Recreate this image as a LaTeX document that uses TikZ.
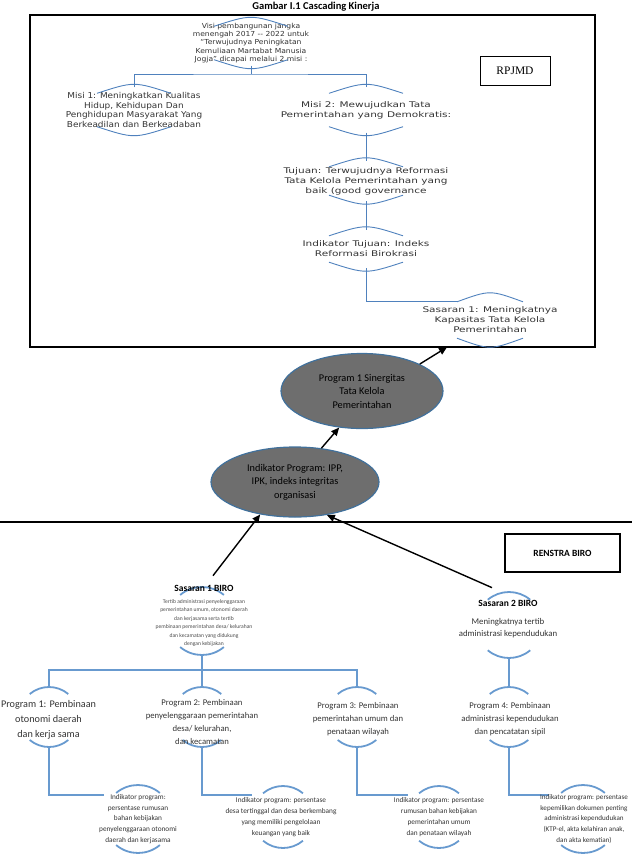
\documentclass[tikz,border=0pt]{standalone}
\usepackage{fontspec}
\setmainfont{Carlito}
\newfontfamily\visifont[FakeStretch=1.35]{DejaVu Sans}
\newfontfamily\visinarrow[FakeStretch=1.1]{DejaVu Sans}
\newfontfamily\serifrm{Liberation Serif}
\usetikzlibrary{arrows.meta,shapes.geometric}

\definecolor{arcblue}{RGB}{79,129,189}
\definecolor{ringblue}{RGB}{104,154,207}
\definecolor{ellfill}{RGB}{110,110,110}
\definecolor{ellline}{RGB}{65,113,156}

\tikzset{
	visinode/.style={font=\visifont\fontsize{7.8}{10}\selectfont, text=black!80, align=center, inner sep=0pt},
	link/.style={arcblue, line width=0.9pt},
	toparc/.style={arcblue, line width=0.9pt},
	ring/.style={circle, inner sep=0pt, outer sep=0pt, minimum size=#1},
	botarc/.style={ringblue, line width=1.8pt},
	botlink/.style={ringblue, line width=1.8pt},
	prognode/.style={font=\fontsize{8.7}{13.3}\selectfont, text=black!80, align=center, inner sep=0pt},
	indnode/.style={font=\fontsize{7.3}{10.8}\selectfont, text=black!80, align=center, inner sep=0pt},
	bubble/.style={ellipse, draw=ellline, line width=1.2pt, fill=ellfill, align=center, font=\fontsize{10.3}{13.5}\selectfont, inner sep=0pt, minimum width=162pt, minimum height=75pt},
	arr/.style={-{Triangle[length=8pt,width=7pt]}, line width=1.4pt},
	sasbold/.style={font=\bfseries\fontsize{9.5}{11}\selectfont, inner sep=0pt},
}

\newcommand{\capsof}[2]{%
	\draw[toparc] ([shift={(-#2pt,-6pt)}]#1.north) .. controls ([shift={(0pt,6pt)}]#1.north) .. ([shift={(#2pt,-6pt)}]#1.north);
	\draw[toparc] ([shift={(-#2pt,6pt)}]#1.south) .. controls ([shift={(0pt,-6pt)}]#1.south) .. ([shift={(#2pt,6pt)}]#1.south);
}
\newcommand{\ringarcs}[2]{%
	\draw[botarc] (#1.130) arc[start angle=130, end angle=50, radius=#2pt];
	\draw[botarc] (#1.230) arc[start angle=230, end angle=310, radius=#2pt];
}

\begin{document}
\begin{tikzpicture}[x=1pt, y=-1pt]
	\path[use as bounding box] (0,0) rectangle (632,857);
	\clip (0,0) rectangle (632,857);

	\node[font=\bfseries\fontsize{10.5}{12}\selectfont, anchor=base] (title) at (316,9) {Gambar I.1 Cascading Kinerja};
	\draw[line width=1.4pt] (30,15) rectangle (595,347);
	\node[draw, line width=0.9pt, minimum width=70pt, minimum height=29pt, font=\serifrm\fontsize{11.5}{13}\selectfont] (rpjmd) at (515,70.5) {RPJMD};

	\node[visinode, font=\visinarrow\fontsize{6.9}{8.4}\selectfont, minimum height=45pt] (visi) at (251,43) {Visi pembangunan jangka\\menengah 2017 -- 2022 untuk\\“Terwujudnya Peningkatan\\Kemuliaan Martabat Manusia\\Jogja” dicapai melalui 2 misi :};
	\node[visinode, font=\visinarrow\fontsize{8.1}{9.6}\selectfont, minimum height=45pt] (misi1) at (134,110) {Misi 1: Meningkatkan Kualitas\\Hidup, Kehidupan Dan\\Penghidupan Masyarakat Yang\\Berkeadilan dan Berkeadaban};
	\node[visinode, minimum height=45pt] (misi2) at (366,110) {Misi 2: Mewujudkan Tata\\Pemerintahan yang Demokratis:};
	\node[visinode, minimum height=40pt] (tujuan) at (366,181) {Tujuan: Terwujudnya Reformasi\\Tata Kelola Pemerintahan yang\\baik (good governance};
	\node[visinode, minimum height=38pt] (indtujuan) at (366,249) {Indikator Tujuan: Indeks\\Reformasi Birokrasi};
	\node[visinode, minimum height=48pt] (sasaran) at (490,320) {Sasaran 1: Meningkatnya\\Kapasitas Tata Kelola\\Pemerintahan};

	\capsof{visi}{37}
	\capsof{misi1}{37}
	\capsof{misi2}{37}
	\capsof{tujuan}{37}
	\capsof{indtujuan}{37}
	\capsof{sasaran}{33}

	\coordinate (fork) at (251,74);
	\draw[link] (visi.south) -- (fork);
	\draw[link] (misi1.north) |- (fork) -| (misi2.north);
	\draw[link] (misi2.south) -- (tujuan.north);
	\draw[link] (tujuan.south) -- (indtujuan.north);
	\draw[link] (indtujuan.south) |- ([shift={(-33pt,-6pt)}]sasaran.north);

	\node[bubble] (prog1) at (362,391) {Program 1 Sinergitas\\Tata Kelola\\Pemerintahan};
	\node[bubble, minimum width=168pt, minimum height=70pt] (indprog) at (295,482) {Indikator Program: IPP,\\IPK, indeks integritas\\organisasi};
	\draw[arr] (prog1.25) -- ([shift={(-43pt,-3pt)}]sasaran.south);
	\draw[arr] (indprog.52) -- (prog1.238);

	\draw[line width=1.4pt] (0,522) -- (632,522);
	\node[draw, line width=1.2pt, minimum width=115pt, minimum height=38pt, font=\bfseries\fontsize{9.5}{11}\selectfont] (renstra) at (562.5,553) {RENSTRA BIRO};

	\node[ring=68pt] (sas1ring) at (202,621) {};
	\node[ring=66pt] (sas2ring) at (509,625) {};
	\node[ring=60pt] (p1ring) at (49,717) {};
	\node[ring=60pt] (p2ring) at (202,717) {};
	\node[ring=60pt] (p3ring) at (357,717) {};
	\node[ring=60pt] (p4ring) at (509,717) {};
	\node[ring=68pt] (i1ring) at (138,819) {};
	\node[ring=62pt] (i2ring) at (283,817) {};
	\node[ring=62pt] (i3ring) at (439,817) {};
	\node[ring=68pt] (i4ring) at (583,819) {};

	\ringarcs{sas1ring}{34}
	\ringarcs{sas2ring}{33}
	\ringarcs{p1ring}{30}
	\ringarcs{p2ring}{30}
	\ringarcs{p3ring}{30}
	\ringarcs{p4ring}{30}
	\ringarcs{i1ring}{34}
	\ringarcs{i2ring}{31}
	\ringarcs{i3ring}{31}
	\ringarcs{i4ring}{34}

	\coordinate (split) at (202,670);
	\draw[botlink] (sas1ring.south) -- (split);
	\draw[botlink] (p1ring.north) |- (split) -| (p3ring.north);
	\draw[botlink] (split) -- (p2ring.north);
	\draw[botlink] (sas2ring.south) -- (p4ring.north);
	\draw[botlink] (p1ring.south) |- ([yshift=24pt]i1ring.west);
	\draw[botlink] (p2ring.south) |- ([yshift=22pt]i2ring.west);
	\draw[botlink] (p3ring.south) |- ([yshift=22pt]i3ring.west);
	\draw[botlink] (p4ring.south) |- ([yshift=24pt]i4ring.west);

	\node[sasbold] (sas1title) at (204,588) {Sasaran 1 BIRO};
	\node[font=\fontsize{5.6}{8.5}\selectfont, text=black!70, align=center, inner sep=0pt] (sas1text) at (204,623) {Tertib administrasi penyelenggaraan\\pemerintahan umum, otonomi daerah\\dan kerjasama serta tertib\\pembinaan pemerintahan desa/ kelurahan\\dan kecamatan yang didukung\\dengan kebijakan};
	\node[sasbold] (sas2title) at (508,603) {Sasaran 2 BIRO};
	\node[font=\fontsize{8.8}{12}\selectfont, text=black!80, align=center, inner sep=0pt] (sas2text) at (508,628) {Meningkatnya tertib\\administrasi kependudukan};

	\node[prognode, font=\fontsize{10.2}{15}\selectfont] (p1text) at (48.5,720) {Program 1: Pembinaan\\otonomi daerah\\dan kerja sama};
	\node[prognode] (p2text) at (202,722) {Program 2: Pembinaan\\penyelenggaraan pemerintahan\\desa/ kelurahan,\\dan kecamatan};
	\node[prognode] (p3text) at (358,719) {Program 3: Pembinaan\\pemerintahan umum dan\\penataan wilayah};
	\node[prognode] (p4text) at (510,719) {Program 4: Pembinaan\\administrasi kependudukan\\dan pencatatan sipil};

	\node[indnode] (i1text) at (138,819) {Indikator program:\\persentase rumusan\\bahan kebijakan\\penyelenggaraan otonomi\\daerah dan kerjasama};
	\node[indnode] (i2text) at (281,817) {Indikator program: persentase\\desa tertinggal dan desa berkembang\\yang memiliki pengelolaan\\keuangan yang baik};
	\node[indnode] (i3text) at (439,817) {Indikator program: persentase\\rumusan bahan kebijakan\\pemerintahan umum\\dan penataan wilayah};
	\node[indnode, font=\fontsize{7.1}{10.8}\selectfont] (i4text) at (584,819) {Indikator program: persentase\\kepemilikan dokumen penting\\administrasi kependudukan\\(KTP-el, akta kelahiran anak,\\dan akta kematian)};

	\draw[arr] ([shift={(9pt,9pt)}]sas1title.north) -- (indprog.223);
	\draw[arr] ([shift={(-16pt,12pt)}]sas2title.north) -- (indprog.314);
\end{tikzpicture}
\end{document}
